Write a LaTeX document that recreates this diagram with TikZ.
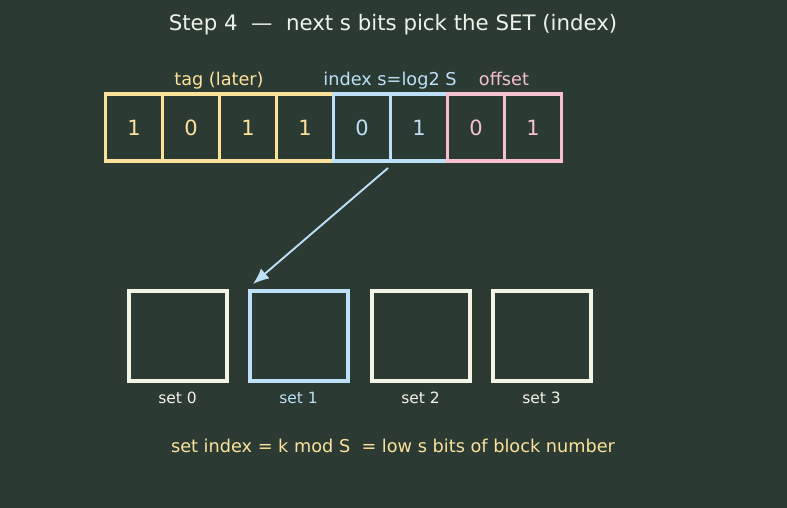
\documentclass[tikz,border=0pt]{standalone}
\usepackage{fontspec}
\setmainfont{DejaVu Sans}
\usetikzlibrary{arrows.meta}
\definecolor{bg}{HTML}{2B3B34}
\definecolor{tagc}{HTML}{FCE29A}
\definecolor{idxc}{HTML}{BEDFF8}
\definecolor{offc}{HTML}{F6C0CF}
\definecolor{wc}{HTML}{F3F3E6}
\definecolor{titlec}{HTML}{EEF3E8}
\tikzset{
  bitcell/.style={draw, line width=3.4pt, minimum width=57pt, minimum height=67pt, inner sep=0pt, font=\fontsize{21}{24}\selectfont},
  setbox/.style={draw, line width=4pt, minimum width=98pt, minimum height=90pt, inner sep=0pt},
  lbl/.style={font=\fontsize{17.7}{20}\selectfont, anchor=base},
  setlbl/.style={font=\fontsize{15.5}{17}\selectfont, anchor=base},
}
\begin{document}
\begin{tikzpicture}[x=1pt,y=-1pt]
\fill[bg] (0,0) rectangle (787,508);
\useasboundingbox (0,0) rectangle (787,508);
\node[titlec, font=\fontsize{21.3}{24}\selectfont, anchor=base] (title) at (393,30.5) {Step 4\ \ —\ \ next s bits pick the SET (index)};
\node[lbl, tagc] (ltag) at (219,86) {tag (later)};
\node[lbl, idxc] (lidx) at (390,86) {index s=log2 S};
\node[lbl, offc] (loff) at (504,86) {offset};
\node[bitcell, draw=tagc, text=tagc] (b1) at (134,127.5) {1};
\node[bitcell, draw=tagc, text=tagc] (b2) at (191,127.5) {0};
\node[bitcell, draw=tagc, text=tagc] (b3) at (248,127.5) {1};
\node[bitcell, draw=tagc, text=tagc] (b4) at (305,127.5) {1};
\node[bitcell, draw=idxc, text=idxc] (b5) at (362,127.5) {0};
\node[bitcell, draw=idxc, text=idxc] (b6) at (419,127.5) {1};
\node[bitcell, draw=offc, text=offc] (b7) at (476,127.5) {0};
\node[bitcell, draw=offc, text=offc] (b8) at (533,127.5) {1};
\node[setbox, draw=wc] (s0) at (177.5,335.5) {};
\node[setbox, draw=idxc] (s1) at (298.5,335.5) {};
\node[setbox, draw=wc] (s2) at (420.5,335.5) {};
\node[setbox, draw=wc] (s3) at (541.5,335.5) {};
\node[setlbl, wc] (t0) at (177.5,403) {set 0};
\node[setlbl, idxc] (t1) at (298.5,403) {set 1};
\node[setlbl, wc] (t2) at (420.5,403) {set 2};
\node[setlbl, wc] (t3) at (541.5,403) {set 3};
\coordinate (astart) at (388,168);
\coordinate (aend) at (253,284);
\draw[idxc, line width=1.9pt, -{Latex[length=16pt,width=13pt]}] (astart) -- (aend);
\node[tagc, lbl] (note) at (393,452.5) {set index = k mod S\ \ = low s bits of block number};
\end{tikzpicture}
\end{document}
